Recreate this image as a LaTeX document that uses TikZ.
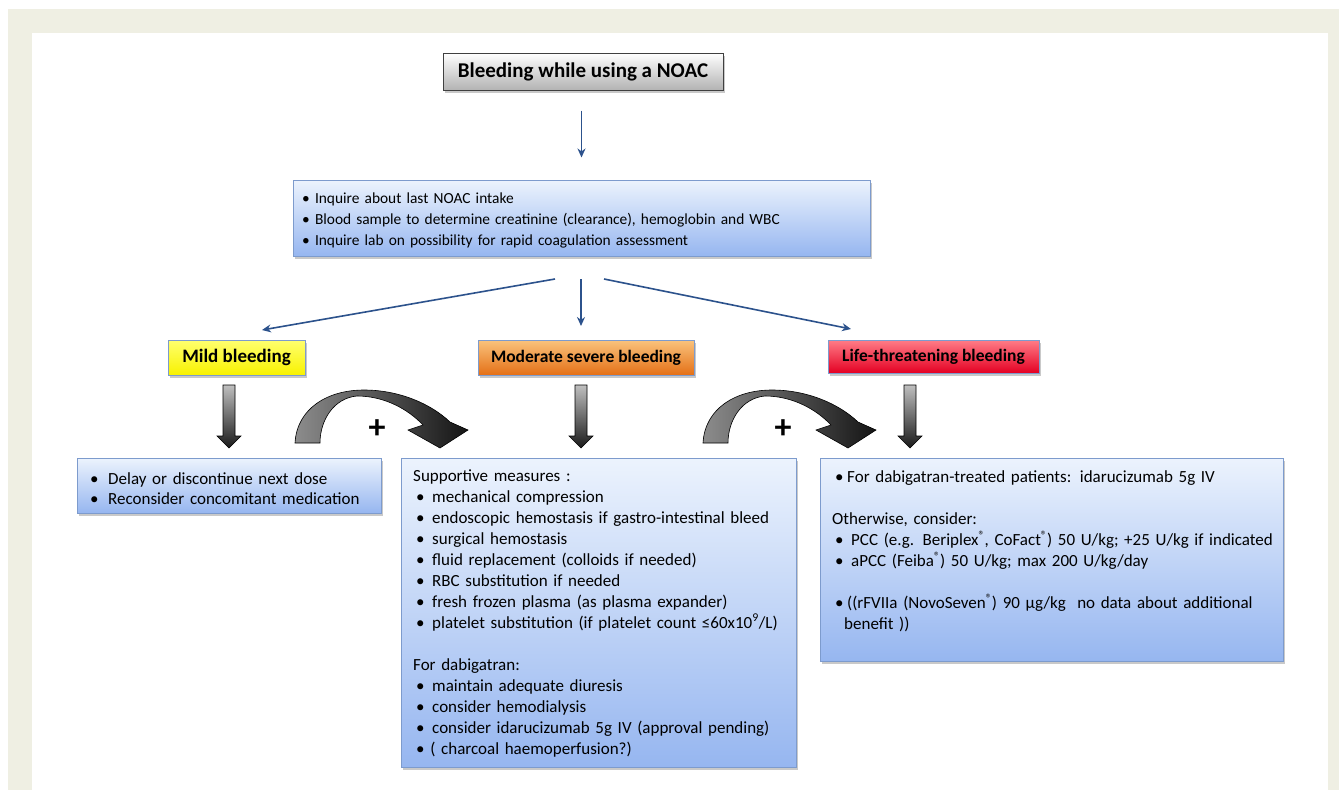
\documentclass[tikz,border=0pt]{standalone}
\usepackage{fontspec}
\setmainfont{Carlito}
\usetikzlibrary{arrows.meta,shadows}
\definecolor{framecol}{RGB}{239,239,227}
\definecolor{navy}{RGB}{44,82,140}
\definecolor{boxborder}{RGB}{125,155,205}
\definecolor{bluetop}{RGB}{236,243,253}
\definecolor{bluebot}{RGB}{150,182,240}
\definecolor{yeltop}{RGB}{255,255,110}
\definecolor{yelbot}{RGB}{248,242,0}
\definecolor{ortop}{RGB}{250,195,125}
\definecolor{orbot}{RGB}{228,112,22}
\definecolor{redtop}{RGB}{255,125,135}
\definecolor{redbot}{RGB}{228,0,35}
\newcommand{\bi}[1][16pt]{\makebox[#1][l]{\textbullet}}
\newcommand{\reg}{\raisebox{0.35em}{\fontsize{12}{12}\selectfont ®}}
\begin{document}
\begin{tikzpicture}[x=1pt,y=-1pt,
  shadowed/.style={drop shadow={shadow xshift=2pt,shadow yshift=-3pt,opacity=0.35,fill=black!60}},
  bluebox/.style={shadowed,draw=boxborder,line width=1pt,top color=bluetop,bottom color=bluebot,inner sep=0pt},
  titlebox/.style={shadowed,draw=black!75,line width=1pt,top color=white,bottom color=black!30,inner sep=0pt,font=\fontsize{21}{24}\selectfont\bfseries},
  levelbox/.style={shadowed,draw=boxborder,line width=1pt,inner sep=0pt,font=\fontsize{17.5}{22}\selectfont\bfseries},
  txt/.style={inner sep=0pt,anchor=base west,align=left,font=\fontsize{17}{21}\selectfont},
  bluearrow/.style={draw=navy,line width=1.6pt,-{Stealth[length=9pt,width=8pt]}},
  blockarrow/.style={draw=black,line width=0.6pt,top color=black!25,bottom color=black!90},
  curvearrow/.style={draw=black,line width=0.6pt,left color=black!45,right color=black!92},
  plussign/.style={inner sep=0pt,font=\fontsize{34}{34}\selectfont\bfseries}]
\useasboundingbox (0,0) rectangle (1339,790);
\fill[white] (0,0) rectangle (1339,790);
\fill[framecol] (8,9) rectangle (1339,790);
\fill[white] (32,33) rectangle (1328,790);

% title
\node[titlebox,minimum width=280pt,minimum height=37pt] (title) at (583,71.5) {Bleeding while using a NOAC};

% info box
\node[bluebox,minimum width=577pt,minimum height=76pt] (info) at (581.5,218) {};
\node[txt,text width=560pt,font=\fontsize{15.4}{21}\selectfont] (infotxt) at (302,203) {%
\textbullet\ Inquire about last NOAC intake\\
\textbullet\ Blood sample to determine creatinine (clearance), hemoglobin and WBC\\
\textbullet\ Inquire lab on possibility for rapid coagulation assessment};

% level boxes
\node[levelbox,minimum width=137pt,minimum height=35pt,top color=yeltop,bottom color=yelbot,font=\fontsize{19}{22}\selectfont\bfseries] (mild) at (236.5,357.5) {Mild bleeding};
\node[levelbox,minimum width=216pt,minimum height=35pt,top color=ortop,bottom color=orbot] (moderate) at (586,357.5) {Moderate severe bleeding};
\node[levelbox,minimum width=211pt,minimum height=33pt,top color=redtop,bottom color=redbot] (life) at (933.5,356.5) {Life-threatening bleeding};

% blue arrows
\draw[bluearrow,shorten <=20pt,shorten >=22pt] (title.south -| info.north) -- (info.north);
\coordinate (s1) at (555,279);
\coordinate (s2) at (581,279);
\coordinate (s3) at (604,279);
\coordinate (e1) at (262,330);
\coordinate (e2) at (581,326);
\coordinate (e3) at (851,329);
\draw[bluearrow] (s1) -- (e1);
\draw[bluearrow] (s2) -- (e2);
\draw[bluearrow] (s3) -- (e3);

% action boxes
\node[bluebox,minimum width=304pt,minimum height=55pt] (mildact) at (229,485.5) {};
\node[txt,text width=290pt] (mildtxt) at (90,484) {%
\bi[18pt]Delay or discontinue next dose\\[-1pt]
\bi[18pt]Reconsider concomitant medication};

\node[bluebox,minimum width=395pt,minimum height=309pt] (modact) at (598.5,612.5) {};
\node[txt,text width=380pt] (modtxt) at (413,481) {%
Supportive measures :\\
\hspace*{3pt}\bi mechanical compression\\
\hspace*{3pt}\bi endoscopic hemostasis if gastro-intestinal bleed\\
\hspace*{3pt}\bi surgical hemostasis\\
\hspace*{3pt}\bi fluid replacement (colloids if needed)\\
\hspace*{3pt}\bi RBC substitution if needed\\
\hspace*{3pt}\bi fresh frozen plasma (as plasma expander)\\
\hspace*{3pt}\bi platelet substitution (if platelet count ≤60x10\textsuperscript{9}/L)\\[21pt]
For dabigatran:\\
\hspace*{3pt}\bi maintain adequate diuresis\\
\hspace*{3pt}\bi consider hemodialysis\\
\hspace*{3pt}\bi consider idarucizumab 5g IV (approval pending)\\
\hspace*{3pt}\textbullet\ ( charcoal haemoperfusion?)};

\node[bluebox,minimum width=463pt,minimum height=203pt] (lifeact) at (1051.5,559.5) {};
\node[txt,text width=450pt] (lifetxt) at (832,482) {%
\hspace*{3pt}\bi[12pt]For dabigatran-treated patients: idarucizumab 5g IV\\[21pt]
Otherwise, consider:\\
\hspace*{3pt}\bi PCC (e.g. Beriplex\reg, CoFact\reg) 50 U/kg; +25 U/kg if indicated\\
\hspace*{3pt}\bi aPCC (Feiba\reg) 50 U/kg; max 200 U/kg/day\\[21pt]
\hspace*{3pt}\bi[12pt]((rFVIIa (NovoSeven\reg) 90 µg/kg\ \ no data about additional\\
\hspace*{12pt}benefit ))};

% down block arrows
\foreach \x in {229,581,910}{
  \path[blockarrow] (\x-6,385) -- (\x+6,385) -- (\x+6,436) -- (\x+12,436) -- (\x,448) -- (\x-12,436) -- (\x-6,436) -- cycle;
}

% curved arrows
\foreach \dx in {0,408}{
  \path[curvearrow,xshift=\dx pt] (295,443) .. controls (297,408) and (328,390) .. (364,390)
     .. controls (398,390) and (430,403) .. (450,422) -- (468,430) -- (440,448) -- (408,430) -- (423,425)
     .. controls (408,409) and (384,396) .. (357,396) .. controls (334,398) and (320,420) .. (320,443) -- cycle;
}
\node[plussign] (plus1) at (377,429) {+};
\node[plussign] (plus2) at (783,429) {+};
\end{tikzpicture}
\end{document}
